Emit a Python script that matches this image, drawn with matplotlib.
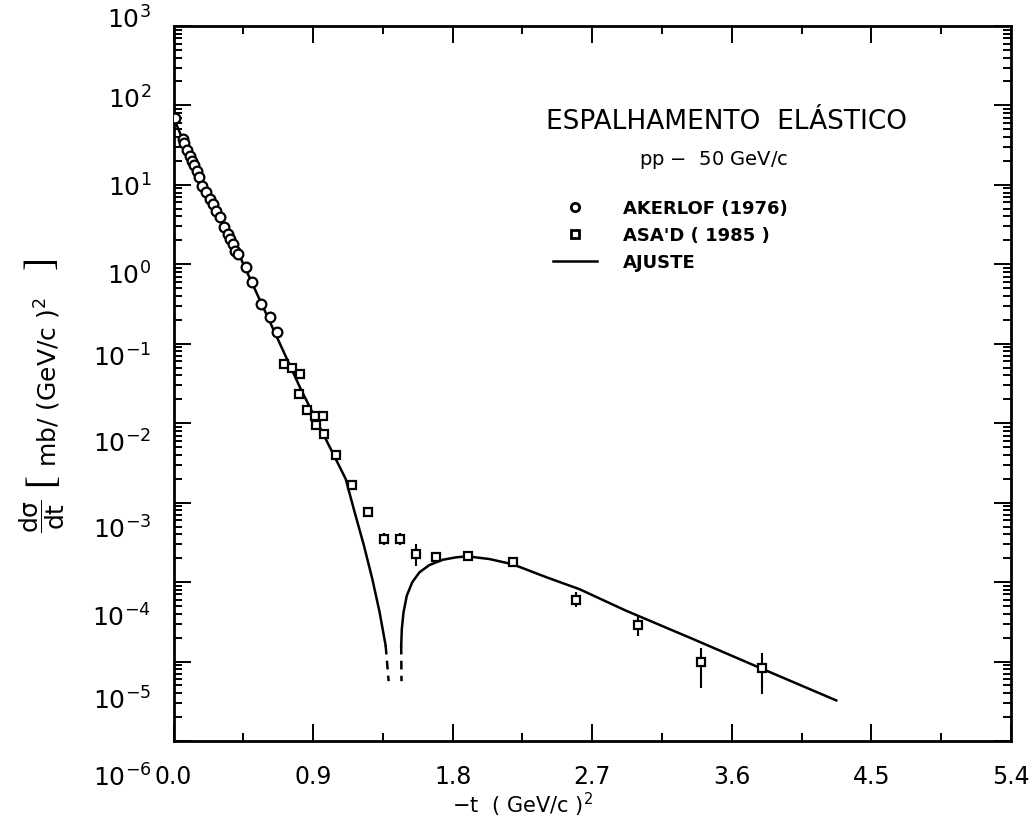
import matplotlib
matplotlib.use("Agg")
import matplotlib.pyplot as plt
import matplotlib.transforms as mtransforms
from matplotlib.lines import Line2D
from matplotlib.ticker import FixedLocator, FixedFormatter, LogLocator, NullFormatter

plt.rcParams["font.family"] = ["DejaVu Sans"]
plt.rcParams["mathtext.default"] = "regular"

# ---- data: pp elastic scattering at 50 GeV/c, -t in (GeV/c)^2, dsigma/dt in mb/(GeV/c)^2
akerlof_t = [0.010, 0.059, 0.070, 0.085, 0.106, 0.121, 0.134, 0.149, 0.162, 0.181,
             0.208, 0.234, 0.256, 0.275, 0.297, 0.325, 0.350, 0.365, 0.383, 0.397,
             0.414, 0.466, 0.509, 0.562, 0.620, 0.665]
akerlof_dsdt = [69.5, 37.9, 33.7, 27.5, 23.4, 20.2, 17.8, 15.1, 12.4, 9.8,
                8.07, 6.64, 5.74, 4.74, 3.89, 2.91, 2.40, 2.07, 1.80, 1.48,
                1.34, 0.93, 0.60, 0.318, 0.218, 0.141]

asad_t = [0.714, 0.766, 0.817, 0.810, 0.861, 0.913, 0.965, 0.919, 0.971, 1.048,
          1.150, 1.252, 1.355, 1.458, 1.561, 1.690, 1.896, 2.186, 2.597, 2.995,
          3.399, 3.797]
asad_dsdt = [0.0556, 0.0496, 0.0415, 0.0232, 0.0146, 0.0123, 0.0123, 0.0095, 0.0073, 0.00395,
             0.00165, 7.7e-4, 3.5e-4, 3.5e-4, 2.29e-4, 2.08e-4, 2.15e-4, 1.78e-4, 6.0e-5, 2.86e-5,
             9.9e-6, 8.2e-6]
asad_low = [0.0556, 0.0496, 0.0415, 0.0232, 0.0146, 0.0123, 0.0123, 0.0095, 0.0073, 0.00395,
            0.00165, 6.7e-4, 2.95e-4, 2.95e-4, 1.61e-4, 1.85e-4, 1.92e-4, 1.54e-4, 4.8e-5, 2.08e-5,
            4.66e-6, 3.88e-6]
asad_high = [0.0556, 0.0496, 0.0415, 0.0232, 0.0146, 0.0123, 0.0123, 0.0095, 0.0073, 0.00395,
             0.00165, 8.9e-4, 4.15e-4, 4.15e-4, 3.05e-4, 2.34e-4, 2.41e-4, 2.06e-4, 7.45e-5, 3.72e-5,
             1.49e-5, 1.28e-5]

# fitted curve, before and after the diffraction dip
fit_left_t = [0.0, 0.10, 0.20, 0.30, 0.435, 0.818, 1.110, 1.168, 1.228, 1.282, 1.329, 1.368]
fit_left = [70.8, 24.0, 8.51, 3.80, 1.17, 0.0275, 1.99e-3, 7.57e-4, 2.87e-4, 1.09e-4, 4.16e-5, 1.58e-5]
fit_right_t = [1.468, 1.472, 1.483, 1.504, 1.539, 1.586, 1.650, 1.736, 1.823, 1.894,
               2.037, 2.185, 2.405, 2.618, 2.917, 3.341, 3.773, 4.273]
fit_right = [1.58e-5, 2.56e-5, 4.16e-5, 6.73e-5, 9.93e-5, 1.33e-4, 1.64e-4, 1.91e-4, 2.05e-4, 2.11e-4,
             1.95e-4, 1.68e-4, 1.15e-4, 8.13e-5, 4.37e-5, 1.95e-5, 8.45e-6, 3.24e-6]
dip_left_t = [1.368, 1.387]
dip_left = [1.58e-5, 5.66e-6]
dip_right_t = [1.468, 1.470]
dip_right = [1.58e-5, 5.66e-6]

x_ticks = [0.0, 0.9, 1.8, 2.7, 3.6, 4.5, 5.4]
x_labels = ["0.0", "0.9", "1.8", "2.7", "3.6", "4.5", "5.4"]
x_minor = [0.45, 1.35, 2.25, 3.15, 4.05, 4.95]
y_ticks = [1e-6, 1e-5, 1e-4, 1e-3, 1e-2, 1e-1, 1e0, 1e1, 1e2, 1e3]
y_labels = [r"$10^{-6}$", r"$10^{-5}$", r"$10^{-4}$", r"$10^{-3}$", r"$10^{-2}$",
            r"$10^{-1}$", r"$10^{0}$", r"$10^{1}$", r"$10^{2}$", r"$10^{3}$"]

# downward shift (pixels) of each decade label, from 10^-6 up to 10^3;
# the label column is spaced a little wider than the decade ticks
ylabel_shift_px = [35, 37, 33, 25, 18, 12, 9, 1, -8, -8]

# ---- figure
fig = plt.figure(figsize=(10.34, 8.35), dpi=100)
ax = fig.add_axes([0.1678, 0.1126, 0.8100, 0.8563])
ax.set_yscale("log")
ax.set_xlim(0, 5.4)
ax.set_ylim(1e-6, 1e3)

lw_fit = 1.8
ax.plot(fit_left_t, fit_left, color="black", lw=lw_fit, zorder=2)
ax.plot(fit_right_t, fit_right, color="black", lw=lw_fit, zorder=2)
ax.plot(dip_left_t, dip_left, color="black", lw=lw_fit, ls=(0, (3.5, 2.5)), zorder=2)
ax.plot(dip_right_t, dip_right, color="black", lw=lw_fit, ls=(0, (3.5, 2.5)), zorder=2)

ax.plot(akerlof_t, akerlof_dsdt, ls="none", marker="o", ms=7, mfc="white",
        mec="black", mew=1.6, zorder=4)
yerr = [[v - lo for v, lo in zip(asad_dsdt, asad_low)],
        [hi - v for v, hi in zip(asad_dsdt, asad_high)]]
ax.errorbar(asad_t, asad_dsdt, yerr=yerr, fmt="s", ms=6, mfc="white", mec="black",
            mew=1.6, ecolor="black", elinewidth=1.5, capsize=0, zorder=4)

# ---- axes styling
for sp in ax.spines.values():
    sp.set_linewidth(2.0)

ax.xaxis.set_major_locator(FixedLocator(x_ticks))
ax.xaxis.set_major_formatter(FixedFormatter(x_labels))
ax.xaxis.set_minor_locator(FixedLocator(x_minor))
ax.yaxis.set_major_locator(FixedLocator(y_ticks))
ax.yaxis.set_major_formatter(FixedFormatter(y_labels))
ax.yaxis.set_minor_locator(LogLocator(base=10, subs=range(2, 10), numticks=20))
ax.yaxis.set_minor_formatter(NullFormatter())

ax.tick_params(which="both", direction="in", top=True, right=True, width=1.4)
ax.tick_params(which="major", length=12)
ax.tick_params(which="minor", length=6)
ax.tick_params(axis="x", which="major", labelsize=17, pad=17)
ax.tick_params(axis="y", which="major", labelsize=18, pad=16)

for tk, shift in zip(ax.yaxis.get_major_ticks(), ylabel_shift_px):
    off = mtransforms.ScaledTranslation(0, -shift / fig.dpi, fig.dpi_scale_trans)
    tk.label1.set_transform(tk.label1.get_transform() + off)

# ---- y axis title: dsigma/dt [ mb/(GeV/c)^2 ], read bottom to top
def fy(px):
    return 1 - px / 835

fig.text(0.041, fy(516), r"$\dfrac{d\sigma}{dt}$", rotation=90,
         ha="center", va="center", fontsize=18)
fig.text(0.041, fy(480), "[", rotation=90, ha="center", va="center",
         fontsize=28, family="Liberation Serif")
fig.text(0.046, fy(382), r"$\mathrm{mb/\ (GeV/c\ )^{2}}$", rotation=90,
         ha="center", va="center", fontsize=18)
fig.text(0.041, fy(263), "]", rotation=90, ha="center", va="center",
         fontsize=28, family="Liberation Serif")

# ---- x axis title
fig.text(0.505, 0.036, r"$-\mathrm{t\ \ (\ GeV/c\ )^{2}}$",
         ha="center", va="center", fontsize=15)

# ---- annotations
fig.text(0.703, 0.854, "ESPALHAMENTO  ELÁSTICO", ha="center", va="center", fontsize=19)
fig.text(0.690, 0.808, "pp $-$  50 GeV/c", ha="center", va="center", fontsize=14)

handles = [
    Line2D([], [], ls="none", marker="o", ms=6, mfc="white", mec="black", mew=2.0),
    Line2D([], [], ls="none", marker="s", ms=6, mfc="white", mec="black", mew=2.0),
    Line2D([], [], color="black", lw=1.8),
]
labels = ["AKERLOF (1976)", "ASA'D ( 1985 )", "AJUSTE"]
ax.legend(handles, labels, loc="upper left", bbox_to_anchor=(0.535, 0.761),
          bbox_transform=fig.transFigure, frameon=False,
          prop={"weight": "bold", "size": 13}, handlelength=2.4,
          handletextpad=1.45, labelspacing=0.5, borderpad=0, borderaxespad=0)

fig.savefig("out.png", dpi=100, facecolor="white")
